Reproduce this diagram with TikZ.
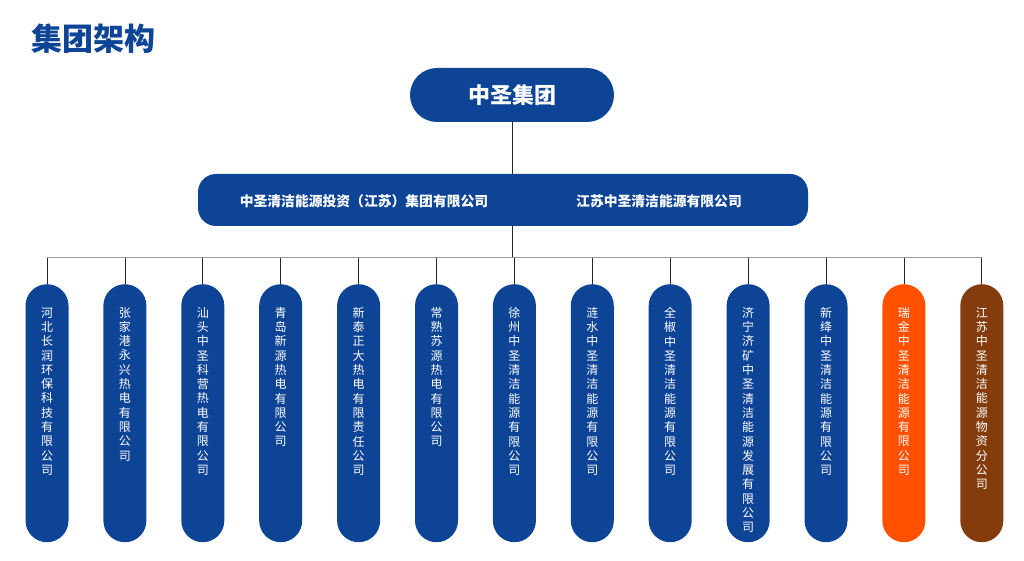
\documentclass[tikz,border=0pt]{standalone}
\usepackage{fontspec}
\setmainfont{Noto Sans CJK SC}
\usetikzlibrary{positioning}
\XeTeXlinebreaklocale "zh"
\XeTeXlinebreakskip=0pt plus 1pt
\definecolor{zsblue}{HTML}{0E4496}
\definecolor{zsorange}{HTML}{FF5000}
\definecolor{zsbrown}{HTML}{843C0C}
\tikzset{
  pill/.style={rectangle, rounded corners=21.5pt, fill=#1, minimum width=43pt, minimum height=258pt, inner sep=0pt, anchor=north},
  pilltext/.style={text=white, font=\fontsize{12}{14.3}\selectfont, text width=13pt, align=center, inner sep=0pt, anchor=north},
  link/.style={draw=black!85, line width=0.7pt},
  bus/.style={draw=black!40, line width=0.8pt},
}

\begin{document}
\begin{tikzpicture}[x=1pt, y=-1pt]
\useasboundingbox (0,0) rectangle (1024,561);

% Title
\node[anchor=west, inner sep=0pt, text=zsblue, font=\fontsize{31}{31}\selectfont\bfseries] (title) at (31,39) {集团架构};

% Group and holding companies
\node[rectangle, rounded corners=27pt, fill=zsblue, minimum width=204pt, minimum height=54pt, text=white, font=\fontsize{22}{22}\selectfont\bfseries] (group) at (512,95) {中圣集团};
\node[rectangle, rounded corners=18pt, fill=zsblue, minimum width=610pt, minimum height=52pt] (hold) at (503,200) {};
\node[text=white, font=\fontsize{13.8}{14}\selectfont\bfseries] (holdA) at (364,201) {中圣清洁能源投资（江苏）集团有限公司};
\node[text=white, font=\fontsize{13.8}{14}\selectfont\bfseries] (holdB) at (659,201) {江苏中圣清洁能源有限公司};
\coordinate (bus) at (512,257);
\draw[link] (group.south) -- (group.south |- hold.north);
\draw[link] (group.south |- hold.south) -- (bus);

% Subsidiaries
\foreach \name/\col [count=\i] in {河北长润环保科技有限公司/zsblue, 张家港永兴热电有限公司/zsblue, 汕头中圣科营热电有限公司/zsblue, 青岛新源热电有限公司/zsblue, 新泰正大热电有限责任公司/zsblue, 常熟苏源热电有限公司/zsblue, 徐州中圣清洁能源有限公司/zsblue, 涟水中圣清洁能源有限公司/zsblue, 全椒中圣清洁能源有限公司/zsblue, 济宁济矿中圣清洁能源发展有限公司/zsblue, 新绛中圣清洁能源有限公司/zsblue, 瑞金中圣清洁能源有限公司/zsorange, 江苏中圣清洁能源物资分公司/zsbrown} {
    \node[pill=\col] (co\i) at ({47+77.9*(\i-1)},284) {};
    \node[pilltext] (cot\i) at ([yshift=-23pt]co\i.north) {\name};
    \draw[link] (co\i.north |- bus) -- (co\i.north);
}
\draw[bus] (co1.north |- bus) -- (co13.north |- bus);
\end{tikzpicture}
\end{document}
